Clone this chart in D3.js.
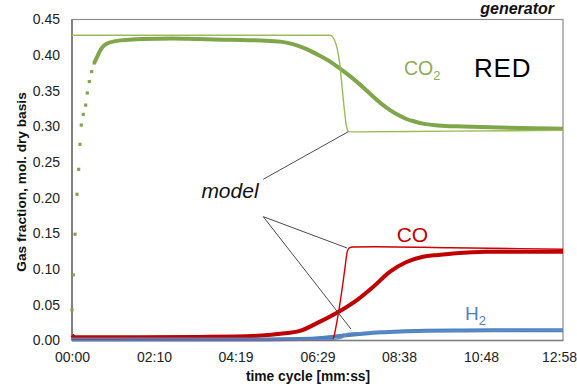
<!DOCTYPE html>
<html>
<head>
<meta charset="utf-8">
<script src="https://cdn.jsdelivr.net/npm/d3@7"></script>
<style>
  html, body { margin: 0; padding: 0; background: #fff; }
  svg { display: block; font-family: "Liberation Sans", Arial, sans-serif; }
</style>
</head>
<body>
<svg id="chart" width="577" height="386"></svg>
<script>
// Time axis (seconds) and its labels
const xTickSeconds = [0, 130, 259, 389, 518, 648, 778];
const xTickLabels = ["00:00", "02:10", "04:19", "06:29", "08:38", "10:48", "12:58"];
const yTicks = [0, 0.05, 0.10, 0.15, 0.20, 0.25, 0.30, 0.35, 0.40, 0.45];

// Measured CO2: sparse samples during the initial rise, then the dense trace
const co2Rise = [
  [0, 0.043], [2, 0.092], [4.8, 0.149], [7.9, 0.205], [10.6, 0.240], [12.7, 0.275],
  [14.7, 0.302], [17.9, 0.317], [21.7, 0.330], [24.2, 0.347], [27.4, 0.363],
  [31.2, 0.377], [35.3, 0.389]
];
const co2Measured = [
  [35.3, 0.389], [40, 0.398], [47, 0.410], [55, 0.416], [71, 0.420], [90, 0.4215],
  [112, 0.4227], [160, 0.4235], [200, 0.4225], [250, 0.4215], [300, 0.4205],
  [330, 0.419], [350, 0.4155], [365, 0.411], [380, 0.405], [395, 0.398],
  [409, 0.391], [425, 0.381], [440, 0.371], [452, 0.362], [465, 0.352],
  [477, 0.342], [490, 0.332], [504, 0.323], [517, 0.316], [530, 0.3105],
  [543, 0.307], [556, 0.304], [580, 0.3015], [620, 0.300], [678, 0.2985],
  [730, 0.2975], [778, 0.297]
];
const co2Model = [
  [0, 0.428], [408, 0.428], [412, 0.4265], [416, 0.421], [420, 0.41], [424, 0.39],
  [428, 0.355], [432, 0.32], [435, 0.300], [439, 0.2925], [600, 0.2935], [778, 0.2945]
];

// Measured and modelled CO
const coMeasured = [
  [0, 0.0075], [5, 0.0045], [100, 0.0045], [200, 0.005], [260, 0.0055], [300, 0.007],
  [330, 0.0095], [361, 0.0135], [393, 0.0265], [422, 0.040], [452, 0.057],
  [477, 0.075], [504, 0.0965], [530, 0.110], [556, 0.1175], [580, 0.120],
  [604, 0.122], [657, 0.1245], [778, 0.1245]
];
const coModel = [
  [0, 0.001], [412, 0.001], [415, 0.005], [418, 0.018], [422, 0.038], [426, 0.06],
  [430, 0.085], [433, 0.105], [436, 0.124], [439, 0.1295], [445, 0.131],
  [480, 0.1315], [600, 0.130], [778, 0.128]
];

// Measured and modelled H2
const h2Measured = [
  [0, 0.0015], [300, 0.0015], [360, 0.002], [400, 0.004], [430, 0.007], [460, 0.0095],
  [490, 0.0115], [520, 0.0127], [560, 0.0136], [620, 0.0141], [700, 0.0144], [778, 0.0145]
];
const h2Model = [
  [0, 0.0005], [410, 0.001], [425, 0.003], [432, 0.006], [436, 0.0100], [450, 0.0108],
  [480, 0.0115], [520, 0.0125], [600, 0.0136], [778, 0.0143]
];

// Callout from the "model" label to each model curve: [from, to] in data units
const modelCallouts = [
  [[303, 0.226], [437.8, 0.2927]],
  [[303, 0.1736], [435.7, 0.1297]],
  [[303, 0.1736], [442, 0.0161]]
];

const svg = d3.select("#chart");
const x = d3.scaleLinear().domain([0, 778]).range([72, 563]);
const y = d3.scaleLinear().domain([0, 0.45]).range([340.5, 19.5]);

const line = d3.line().x(d => x(d[0])).y(d => y(d[1])).curve(d3.curveMonotoneX);
const lineLin = d3.line().x(d => x(d[0])).y(d => y(d[1]));

// Plot frame
svg.append("rect")
  .attr("x", x(0)).attr("y", y(0.45))
  .attr("width", x(778) - x(0)).attr("height", y(0) - y(0.45))
  .attr("fill", "none").attr("stroke", "#8c8c8c").attr("stroke-width", 1.2);
svg.append("line")
  .attr("x1", x(0)).attr("x2", x(0)).attr("y1", y(0.45)).attr("y2", y(0))
  .attr("stroke", "#808080").attr("stroke-width", 2);
svg.append("line")
  .attr("x1", x(0)).attr("x2", x(778)).attr("y1", y(0)).attr("y2", y(0))
  .attr("stroke", "#808080").attr("stroke-width", 1.5);

// Axes
const xAxis = svg.append("g")
  .attr("transform", `translate(0,${y(0)})`)
  .call(d3.axisBottom(x).tickValues(xTickSeconds)
    .tickFormat((d, i) => xTickLabels[i]).tickSize(0).tickPadding(11.5));
const yAxis = svg.append("g")
  .attr("transform", `translate(${x(0)},0)`)
  .call(d3.axisLeft(y).tickValues(yTicks).tickFormat(d3.format(".2f"))
    .tickSize(0).tickPadding(12));
[xAxis, yAxis].forEach(g => {
  g.select(".domain").remove();
  g.selectAll("text").attr("font-size", 14).attr("fill", "#222")
    .attr("font-family", "'Liberation Sans', Arial, sans-serif");
});
// keep the last time label inside the page
xAxis.selectAll(".tick:last-of-type text").attr("dx", -4);

// Measured traces (thick)
svg.append("path").datum(co2Measured).attr("d", line)
  .attr("fill", "none").attr("stroke", "#80a64b").attr("stroke-width", 4)
  .attr("stroke-linejoin", "round");
svg.append("g").selectAll("rect").data(co2Rise).join("rect")
  .attr("x", d => x(d[0]) - 1.6).attr("y", d => y(d[1]) - 1.6)
  .attr("width", 3.2).attr("height", 3.2).attr("fill", "#80a64b");
svg.append("path").datum(coMeasured).attr("d", line)
  .attr("fill", "none").attr("stroke", "#c00000").attr("stroke-width", 4)
  .attr("stroke-linejoin", "round");
svg.append("path").datum(h2Measured).attr("d", line)
  .attr("fill", "none").attr("stroke", "#4f81bd").attr("stroke-width", 4)
  .attr("stroke-linejoin", "round");

// Model traces (thin)
svg.append("path").datum(co2Model).attr("d", line)
  .attr("fill", "none").attr("stroke", "#9bbb59").attr("stroke-width", 1.4);
svg.append("path").datum(coModel).attr("d", line)
  .attr("fill", "none").attr("stroke", "#d00000").attr("stroke-width", 1.4);
svg.append("path").datum(h2Model).attr("d", line)
  .attr("fill", "none").attr("stroke", "#5b8fcc").attr("stroke-width", 1.4);

// Callout lines
svg.append("g").selectAll("path").data(modelCallouts).join("path")
  .attr("d", lineLin).attr("fill", "none")
  .attr("stroke", "#4a4a4a").attr("stroke-width", 1);

// Labels
svg.append("text").attr("x", x(205)).attr("y", y(0.2))
  .attr("font-size", 21).attr("font-style", "italic").attr("fill", "#111")
  .text("model");

const co2Label = svg.append("text").attr("x", x(526)).attr("y", y(0.372))
  .attr("font-size", 19.5).attr("fill", "#8dae55");
co2Label.append("tspan").text("CO");
co2Label.append("tspan").attr("dy", 5).attr("font-size", 13).text("2");

svg.append("text").attr("x", x(637)).attr("y", y(0.369))
  .attr("font-size", 26).attr("letter-spacing", 0.8).attr("fill", "#000").text("RED");

svg.append("text").attr("x", x(514.5)).attr("y", y(0.1385))
  .attr("font-size", 21).attr("fill", "#c00000").text("CO");

const h2Label = svg.append("text").attr("x", x(622.7)).attr("y", y(0.0287))
  .attr("font-size", 19).attr("fill", "#4f81bd");
h2Label.append("tspan").text("H");
h2Label.append("tspan").attr("dy", 5).attr("font-size", 13).text("2");

svg.append("text").attr("x", 554).attr("y", 14)
  .attr("text-anchor", "end").attr("font-size", 16)
  .attr("font-weight", "bold").attr("font-style", "italic").attr("fill", "#111")
  .text("generator");

// Axis titles
svg.append("text").attr("x", 308).attr("y", 381)
  .attr("text-anchor", "middle").attr("font-size", 13.8).attr("font-weight", "bold")
  .attr("fill", "#111").text("time cycle [mm:ss]");
svg.append("text")
  .attr("transform", "translate(26,182) rotate(-90)")
  .attr("text-anchor", "middle").attr("font-size", 13.7).attr("font-weight", "bold")
  .attr("fill", "#111").text("Gas fraction, mol. dry basis");
</script>
</body>
</html>
